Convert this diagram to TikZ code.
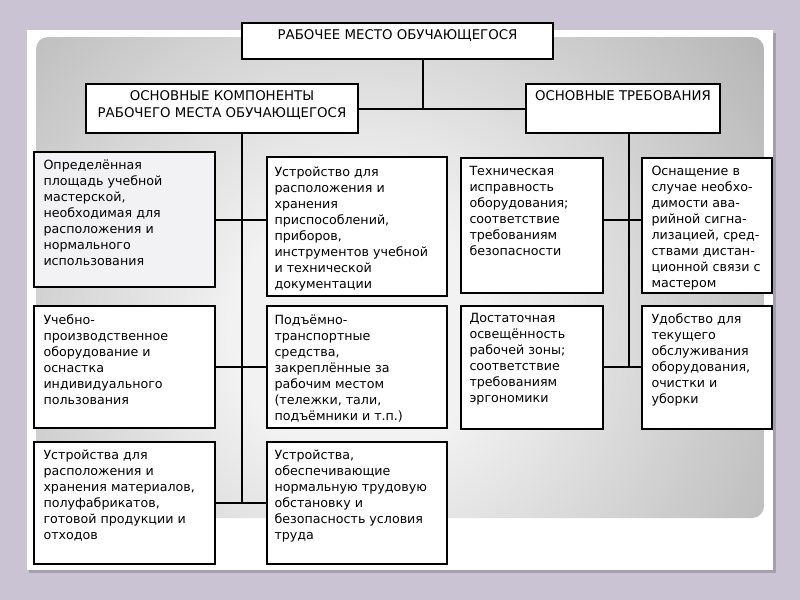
\documentclass[tikz,border=0pt]{standalone}
\usepackage{fontspec}
\setmainfont{DejaVu Sans}
\usetikzlibrary{fit}

\definecolor{slidebg}{RGB}{201,195,211}
\definecolor{paneldark}{RGB}{160,160,160}
\definecolor{panellight}{RGB}{242,242,242}
\definecolor{areafill}{RGB}{242,242,244}
\pgfdeclareradialshading{panelglow}{\pgfpointorigin}{color(0bp)=(panellight); color(7bp)=(panellight); color(35bp)=(paneldark); color(50bp)=(paneldark)}

\tikzset{every picture/.style={line width=0.75pt}}
\tikzset{
  box/.style={draw=black, line width=1.5, fill=white, inner sep=0pt},
  head/.style={font=\fontsize{10}{12.5}\selectfont, align=center, inner sep=0pt, anchor=north},
  txt/.style={font=\fontsize{9.5}{12}\selectfont, align=left, inner sep=0pt, anchor=north west},
  link/.style={line width=1.5}
}

\begin{document}
\begin{tikzpicture}[x=0.75pt,y=0.75pt,yscale=-1,xscale=1]
\useasboundingbox (0,0) rectangle (800,600);

%Slide background
\fill [slidebg] (0,0) rectangle (800,600);
%Card with shadow
\fill [black, opacity=0.18] (29,33) rectangle (776,573);
\fill [white] (27,30) rectangle (773,570);
%Shaded panel
\begin{scope}
\clip [rounded corners=9] (36,37) rectangle (764,518);
\shade [shading=panelglow] (-90,-120) rectangle (810,780);
\end{scope}

%Shape: Rectangle
\node [box, fit={(242,23) (553,59)}] (workplace) {};
\node [box, fit={(86,84) (358,133)}] (components) {};
\node [box, fit={(526,84) (720,133)}] (requirements) {};
%Shape: Rectangle
\node [box, fill=areafill, fit={(34,152) (215,287)}] (area) {};
\node [box, fit={(267,157) (447,296)}] (tooling) {};
\node [box, fit={(461,158) (603,293)}] (safety) {};
\node [box, fit={(642,158) (772,293)}] (alarm) {};
%Shape: Rectangle
\node [box, fit={(34,306) (215,428)}] (equipment) {};
\node [box, fit={(267,306) (447,428)}] (lifting) {};
\node [box, fit={(461,306) (603,429)}] (lighting) {};
\node [box, fit={(642,306) (772,429)}] (service) {};
%Shape: Rectangle
\node [box, fit={(34,442) (215,564)}] (storage) {};
\node [box, fit={(267,442) (447,564)}] (conditions) {};

%Junctions
\coordinate (topj) at (423,108);
\coordinate (lt1) at (242,220);
\coordinate (lt3) at (242,502);
\coordinate (rt1) at (629,220);
\coordinate (rt2) at (629,367);

%Straight Lines
\draw [link] (workplace.south -| topj) -- (topj);
\draw [link] (components) -- (requirements);
\draw [link] (components.south -| lt1) -- (lt3);
\draw [link] (area.east |- lt1) -- (tooling.west |- lt1);
\draw [link] (equipment) -- (lifting);
\draw [link] (storage) -- (conditions);
\draw [link] (requirements.south -| rt1) -- (rt2);
\draw [link] (safety.east |- rt1) -- (alarm.west |- rt1);
\draw [link] (lighting.east |- rt2) -- (service.west |- rt2);

% Text Node
\node [head] (workplace-t) at (397.5,29) {РАБОЧЕЕ МЕСТО ОБУЧАЮЩЕГОСЯ};
% Text Node
\node [head] (components-t) at (222,90.5) {ОСНОВНЫЕ КОМПОНЕНТЫ\\РАБОЧЕГО МЕСТА ОБУЧАЮЩЕГОСЯ};
% Text Node
\node [head] (requirements-t) at (623,90) {ОСНОВНЫЕ ТРЕБОВАНИЯ};

% Text Node
\node [txt] (area-t) at (43,159) {Определённая\\площадь учебной\\мастерской,\\необходимая для\\расположения и\\нормального\\использования};
% Text Node
\node [txt] (tooling-t) at (274,166) {Устройство для\\расположения и\\хранения\\приспособлений,\\приборов,\\инструментов учебной\\и технической\\документации};
% Text Node
\node [txt] (safety-t) at (469,166) {Техническая\\исправность\\оборудования;\\соответствие\\требованиям\\безопасности};
% Text Node
\node [txt] (alarm-t) at (651,166) {Оснащение в\\случае необхо-\\димости ава-\\рийной сигна-\\лизацией, сред-\\ствами дистан-\\ционной связи с\\мастером};
% Text Node
\node [txt] (equipment-t) at (43,314) {Учебно-\\производственное\\оборудование и\\оснастка\\индивидуального\\пользования};
% Text Node
\node [txt] (lifting-t) at (274,314) {Подъёмно-\\транспортные\\средства,\\закреплённые за\\рабочим местом\\(тележки, тали,\\подъёмники и т.п.)};
% Text Node
\node [txt] (lighting-t) at (469,313) {Достаточная\\освещённость\\рабочей зоны;\\соответствие\\требованиям\\эргономики};
% Text Node
\node [txt] (service-t) at (651,313) {Удобство для\\текущего\\обслуживания\\оборудования,\\очистки и\\уборки};
% Text Node
\node [txt] (storage-t) at (43,449) {Устройства для\\расположения и\\хранения материалов,\\полуфабрикатов,\\готовой продукции и\\отходов};
% Text Node
\node [txt] (conditions-t) at (274,449) {Устройства,\\обеспечивающие\\нормальную трудовую\\обстановку и\\безопасность условия\\труда};

\end{tikzpicture}
\end{document}
